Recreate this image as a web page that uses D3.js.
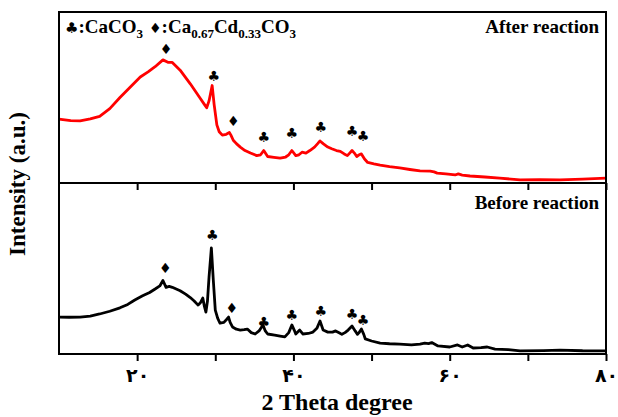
<!DOCTYPE html>
<html>
<head>
<meta charset="utf-8">
<script src="https://cdn.jsdelivr.net/npm/d3@7"></script>
<style>
  body { margin: 0; background: #fff; }
  svg { display: block; font-family: "Liberation Serif", "Times New Roman", serif; }
</style>
</head>
<body>
<svg id="chart" width="618" height="417"></svg>
<script>
// XRD patterns, 2θ (deg) vs intensity (a.u., 0-100 per panel)
const afterPattern = [
  [10, 37.4], [11.5, 36.5], [12.7, 36.3], [14, 37.5], [15.2, 39], [16.5, 43.5], [17.8, 50],
  [19.1, 56], [20.4, 62], [21.4, 65], [22.3, 68], [23.3, 72], [24.0, 70.5], [24.5, 70.5],
  [25.5, 66], [26.8, 58], [28.0, 50], [28.6, 46], [28.9, 44], [29.2, 48], [29.6, 57],
  [29.85, 46], [30.2, 34], [30.5, 30], [30.9, 28], [31.4, 28.5], [31.8, 29.5], [32.0, 28],
  [32.3, 25], [32.7, 23], [33.2, 21], [33.8, 19], [34.5, 17.5], [35.3, 16], [35.8, 16.5],
  [36.2, 19], [36.7, 15.5], [37.5, 15], [38.3, 14.5], [39.0, 15.2], [39.4, 16.5], [39.8, 19],
  [40.3, 16], [40.7, 16.5], [41.1, 18], [41.6, 17.5], [42.1, 19], [42.7, 21], [43.1, 23],
  [43.4, 24.6], [43.8, 23], [44.4, 21], [44.9, 20], [45.5, 19], [46.0, 18.5], [46.5, 17],
  [46.9, 16], [47.2, 17.5], [47.5, 19], [47.8, 17.5], [48.1, 15.5], [48.4, 16.5], [48.7, 17],
  [49.1, 14], [49.5, 12], [50.3, 11.2], [51.1, 10.5], [52.3, 9.6], [53.6, 8.8], [54.9, 7.9],
  [56.2, 7.1], [57.5, 7.0], [58.0, 6.5], [58.4, 5.8], [59.5, 5.3], [60.7, 4.7], [61.1, 5.3],
  [61.6, 4.6], [62.6, 4.1], [64.5, 3.5], [66.4, 2.9], [69, 1.8], [71.5, 1.9], [74.1, 1.8],
  [77, 2.3], [80, 2.9]
];

const beforePattern = [
  [10, 21.6], [11.3, 21.5], [12.7, 21.6], [14, 22.2], [15.2, 23.4], [16.5, 25], [17.8, 27],
  [18.8, 29], [19.7, 31.6], [20.7, 34], [21.6, 36], [22.3, 38], [22.9, 39.8], [23.3, 43],
  [23.7, 39], [24.1, 39.5], [24.5, 39], [25.5, 37], [26.2, 35], [26.8, 33], [27.3, 31],
  [27.8, 28.6], [28.1, 30], [28.4, 32.7], [28.6, 28], [28.8, 24.5], [29.0, 31], [29.2, 45],
  [29.5, 62], [29.75, 43], [30.0, 25.7], [30.3, 21], [30.6, 18], [31.1, 18.5], [31.5, 20.5],
  [31.7, 21.6], [31.9, 18.5], [32.2, 15.8], [32.7, 14.5], [33.2, 14], [33.7, 14.2], [34.1, 14.6],
  [34.6, 12.5], [35.1, 11.7], [35.6, 13.5], [36.1, 17], [36.4, 13.5], [36.7, 11.7], [37.6, 11.1],
  [38.3, 10.5], [38.9, 10], [39.4, 12.5], [39.8, 17], [40.1, 14], [40.3, 11.7], [40.8, 14],
  [41.2, 11.7], [41.9, 12], [42.5, 12.8], [43.0, 15], [43.4, 19.3], [43.8, 14], [44.4, 12.8],
  [45.0, 12.8], [45.4, 13.5], [45.9, 12.3], [46.2, 11.5], [46.6, 12.5], [47.0, 14],
  [47.5, 16.4], [47.9, 13.5], [48.2, 11.5], [48.4, 12.5], [48.7, 14.6], [49.0, 11.5],
  [49.2, 8.8], [50.0, 7.6], [51.1, 6.4], [52.3, 6.0], [53.6, 5.8], [55.1, 5.3], [56.2, 5.8],
  [56.8, 6.4], [57.3, 6.1], [57.7, 6.7], [58.5, 4.7], [60.0, 4.1], [61.0, 5.3], [61.6, 4.1],
  [62.3, 5.3], [63.0, 3.5], [64.0, 3.7], [64.8, 4.1], [65.8, 2.9], [67.5, 2.5], [69.0, 1.8],
  [72, 2.0], [74.1, 2.3], [77, 1.9], [80, 1.8]
];

// peak labels: [2θ, height, phase]
const afterMarks = [
  [23.7, 78.4, "d"], [29.8, 62.5, "c"], [32.3, 36.3, "d"], [36.2, 26.9, "c"],
  [39.8, 29.2, "c"], [43.5, 32.7, "c"], [47.5, 30.5, "c"], [48.9, 27.5, "c"]
];
const beforeMarks = [
  [23.6, 50.3, "d"], [29.6, 69.6, "c"], [32.1, 26.9, "d"], [36.2, 18.7, "c"],
  [39.8, 22.8, "c"], [43.5, 25.1, "c"], [47.5, 23.4, "c"], [48.9, 19.9, "c"]
];

const xTicks = [20, 30, 40, 50, 60, 70, 80];
const xLabelled = [20, 40, 60, 80];

const svg = d3.select("#chart");

const x = d3.scaleLinear().domain([10, 80]).range([59, 606]);
const yTop = d3.scaleLinear().domain([0, 100]).range([183, 12]);
const yBot = d3.scaleLinear().domain([0, 100]).range([354, 183]);

const persian = n => String(n).replace(/\d/g, c => "۰۱۲۳۴۵۶۷۸۹"[+c]);
const symbol = { c: "\u2663", d: "\u2666" };

// curves
function drawPattern(data, y, color) {
  svg.append("path")
    .datum(data)
    .attr("fill", "none")
    .attr("stroke", color)
    .attr("stroke-width", 2.8)
    .attr("stroke-linejoin", "round")
    .attr("d", d3.line().x(d => x(d[0])).y(d => y(d[1])));
}
drawPattern(afterPattern, yTop, "#ff0000");
drawPattern(beforePattern, yBot, "#000");

function drawMarks(marks, y) {
  svg.append("g").selectAll("text")
    .data(marks)
    .join("text")
    .attr("x", d => x(d[0]))
    .attr("y", d => y(d[1]))
    .attr("dy", "0.35em")
    .attr("text-anchor", "middle")
    .attr("font-family", "DejaVu Sans")
    .attr("font-size", 14)
    .text(d => symbol[d[2]]);
}
drawMarks(afterMarks, yTop);
drawMarks(beforeMarks, yBot);

// axes (ticks pointing down on the divider and on the bottom)
function xAxis(yPos, labels) {
  const g = svg.append("g")
    .attr("transform", `translate(0,${yPos})`)
    .call(d3.axisBottom(x).tickValues(xTicks).tickSize(7).tickSizeOuter(0)
      .tickFormat(d => labels && xLabelled.includes(d) ? persian(d) : ""));
  g.select(".domain").remove();
  g.selectAll(".tick line").attr("stroke", "#000").attr("stroke-width", 2);
  g.selectAll(".tick text")
    .attr("font-family", "DejaVu Sans")
    .attr("font-weight", "bold")
    .attr("font-size", 19)
    .attr("dy", "0.95em")
    .attr("fill", "#000");
}
xAxis(yTop.range()[0], false);
xAxis(yBot.range()[0], true);

// frame
const frame = svg.append("g").attr("stroke", "#000").attr("stroke-width", 2).attr("fill", "none");
frame.append("rect")
  .attr("x", x.range()[0]).attr("y", yTop.range()[1])
  .attr("width", x.range()[1] - x.range()[0])
  .attr("height", yBot.range()[0] - yTop.range()[1]);
frame.append("line")
  .attr("x1", x.range()[0]).attr("x2", x.range()[1])
  .attr("y1", yTop.range()[0]).attr("y2", yTop.range()[0]);

// panel titles
svg.append("text").attr("x", 599).attr("y", 33).attr("text-anchor", "end")
  .attr("font-weight", "bold").attr("font-size", 19).text("After reaction");
svg.append("text").attr("x", 599).attr("y", 209).attr("text-anchor", "end")
  .attr("font-weight", "bold").attr("font-size", 19).text("Before reaction");

// legend
const legend = svg.append("text").attr("x", 65).attr("y", 33)
  .attr("font-weight", "bold").attr("font-size", 19);
legend.append("tspan").attr("font-family", "DejaVu Sans").attr("font-size", 15).text(symbol.c);
legend.append("tspan").text(":CaCO");
legend.append("tspan").attr("font-size", 13).attr("dy", 5).text("3");
legend.append("tspan").attr("dy", -5).attr("font-family", "DejaVu Sans").attr("font-size", 14).attr("dx", 6).text(symbol.d);
legend.append("tspan").text(":Ca");
legend.append("tspan").attr("font-size", 13).attr("dy", 5).text("0.67");
legend.append("tspan").attr("dy", -5).text("Cd");
legend.append("tspan").attr("font-size", 13).attr("dy", 5).text("0.33");
legend.append("tspan").attr("dy", -5).text("CO");
legend.append("tspan").attr("font-size", 13).attr("dy", 5).text("3");

// axis titles
svg.append("text").attr("x", 337).attr("y", 410).attr("text-anchor", "middle")
  .attr("font-weight", "bold").attr("font-size", 24).text("2 Theta degree");
svg.append("text")
  .attr("transform", "translate(25,184) rotate(-90)")
  .attr("text-anchor", "middle")
  .attr("font-weight", "bold").attr("font-size", 23).text("Intensity (a.u.)");
</script>
</body>
</html>
